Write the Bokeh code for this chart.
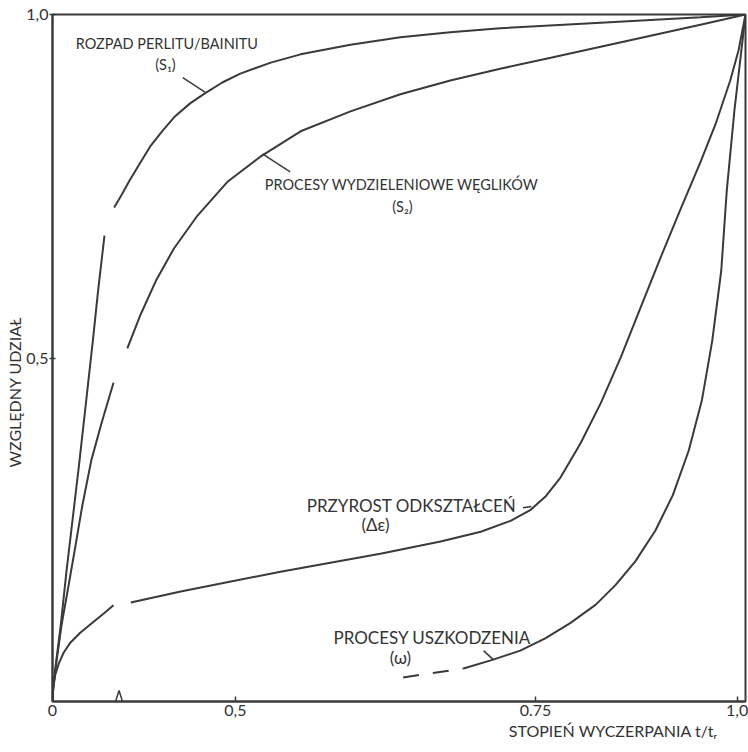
import math
from bokeh.plotting import figure
from bokeh.models import Range1d, FixedTicker, Label, Title
from bokeh.embed import file_html
from bokeh.resources import INLINE

nan = float("nan")

# ---- data (x = position along the broken/schematic axis, 0..1; y = relative share) ----
S1_X = [0, 0.001, 0.004, 0.012, 0.020, 0.029, 0.038, 0.048, 0.058, 0.066, 0.075, nan,
        0.089, 0.100, 0.111, 0.126, 0.141, 0.159, 0.177, 0.199, 0.221, 0.245, 0.271,
        0.315, 0.358, 0.430, 0.502, 0.574, 0.646, 0.791, 0.935, 1.0]
S1_Y = [0, 0.019, 0.048, 0.112, 0.188, 0.265, 0.342, 0.432, 0.523, 0.600, 0.678, nan,
        0.719, 0.738, 0.758, 0.783, 0.808, 0.831, 0.852, 0.871, 0.886, 0.901, 0.914,
        0.930, 0.942, 0.956, 0.967, 0.974, 0.980, 0.988, 0.996, 1.0]

S2_X = [0, 0.001, 0.006, 0.013, 0.022, 0.032, 0.043, 0.056, 0.071, 0.088, nan,
        0.108, 0.127, 0.150, 0.175, 0.209, 0.253, 0.300, 0.358, 0.430, 0.502, 0.574,
        0.646, 0.719, 0.791, 0.863, 0.935, 1.0]
S2_Y = [0, 0.019, 0.060, 0.111, 0.162, 0.220, 0.285, 0.351, 0.406, 0.464, nan,
        0.514, 0.563, 0.614, 0.659, 0.707, 0.757, 0.793, 0.830, 0.859, 0.884, 0.904,
        0.921, 0.937, 0.953, 0.969, 0.985, 1.0]

DE_X = [0, 0.001, 0.004, 0.009, 0.016, 0.026, 0.040, 0.058, 0.074, 0.088, nan,
        0.113, 0.185, 0.329, 0.473, 0.560, 0.618, 0.661, 0.690, 0.711, 0.733, 0.762,
        0.791, 0.820, 0.848, 0.877, 0.906, 0.935, 0.957, 0.978, 0.990, 1.0]
DE_Y = [0, 0.019, 0.039, 0.055, 0.071, 0.086, 0.100, 0.115, 0.128, 0.140, nan,
        0.144, 0.160, 0.189, 0.215, 0.233, 0.247, 0.263, 0.279, 0.298, 0.326, 0.376,
        0.434, 0.501, 0.572, 0.645, 0.716, 0.785, 0.841, 0.904, 0.948, 1.0]

W_DASH_X = [0.506, 0.593]
W_DASH_Y = [0.035, 0.048]
W_X = [0.593, 0.636, 0.675, 0.711, 0.747, 0.784, 0.812, 0.841, 0.870, 0.895, 0.918,
       0.937, 0.952, 0.965, 0.973, 0.984, 1.0]
W_Y = [0.048, 0.061, 0.074, 0.092, 0.114, 0.141, 0.169, 0.204, 0.249, 0.300, 0.365,
       0.438, 0.525, 0.627, 0.744, 0.860, 1.0]

X_TICK_POS = [0.0, 0.264, 0.697, 0.988]
X_TICK_LABELS = ["0", "0,5", "0.75", "1,0"]
Y_TICK_POS = [0.5, 1.0]
Y_TICK_LABELS = ["0,5", "1,0"]
AXIS_BREAK = 0.098

INK = "#3a3a3a"
TXT = "#333333"
FONT = "Lato"

p = figure(width=748, height=750, output_backend="svg", toolbar_location=None,
           x_range=Range1d(0, 1), y_range=Range1d(0, 1),
           min_border_left=52, min_border_right=3, min_border_top=14, min_border_bottom=49)
p.grid.visible = False
p.outline_line_color = INK
p.outline_line_width = 2
p.background_fill_color = "white"
p.border_fill_color = "white"

xa = p.xaxis[0]
xa.ticker = FixedTicker(ticks=X_TICK_POS)
xa.major_label_overrides = dict(zip(X_TICK_POS, X_TICK_LABELS))
xa.major_tick_in = 5
xa.major_tick_out = 0
xa.major_label_standoff = 3

ya = p.yaxis[0]
ya.ticker = FixedTicker(ticks=Y_TICK_POS)
ya.major_label_overrides = dict(zip(Y_TICK_POS, Y_TICK_LABELS))
ya.major_tick_in = 3
ya.major_tick_out = 3
ya.major_label_standoff = 1

for ax in (xa, ya):
    ax.axis_line_color = INK
    ax.axis_line_width = 2
    ax.major_tick_line_color = INK
    ax.major_tick_line_width = 1.5
    ax.minor_tick_line_color = None
    ax.major_label_text_font = FONT
    ax.major_label_text_font_size = "16px"
    ax.major_label_text_color = TXT

# axis titles as side titles (so they can be offset like in the reference)
p.add_layout(Title(text="STOPIEŃ WYCZERPANIA t/tᵣ", align="right", offset=28, standoff=0,
                   text_font=FONT, text_font_size="16px", text_font_style="normal",
                   text_color=TXT), "below")
p.add_layout(Title(text="WZGLĘDNY UDZIAŁ", align="left", offset=234, standoff=0,
                   text_font=FONT, text_font_size="16px", text_font_style="normal",
                   text_color=TXT), "left")

LW = 2
p.line(S1_X, S1_Y, line_color=INK, line_width=LW)
p.line(S2_X, S2_Y, line_color=INK, line_width=LW)
p.line(DE_X, DE_Y, line_color=INK, line_width=LW)
p.line(W_X, W_Y, line_color=INK, line_width=LW)
p.line(W_DASH_X, W_DASH_Y, line_color=INK, line_width=LW, line_dash="16 14")

# leader ticks from labels to curves
LEADERS = [((0.188, 0.220), (0.908, 0.887)),
           ((0.303, 0.343), (0.797, 0.771)),
           ((0.679, 0.691), (0.282, 0.284)),
           ((0.622, 0.636), (0.074, 0.061))]
for lx, ly in LEADERS:
    p.line(list(lx), list(ly), line_color=INK, line_width=1.5)

# axis break mark (only the part inside the frame can be drawn)
b = AXIS_BREAK
p.line([b - 0.007, b - 0.002, b + 0.003], [0.0, 0.016, 0.0], line_color=INK, line_width=1.5)

def lab(x, y, t, size="14px"):
    p.add_layout(Label(x=x, y=y, text=t, text_font=FONT, text_font_size=size,
                       text_color=TXT, text_align="center", text_baseline="middle"))

lab(0.165, 0.958, "ROZPAD PERLITU/BAINITU", "14.5px")
lab(0.163, 0.927, "(S₁)", "14.5px")
lab(0.504, 0.753, "PROCESY WYDZIELENIOWE WĘGLIKÓW", "14.5px")
lab(0.505, 0.720, "(S₂)", "14.5px")
lab(0.518, 0.285, "PRZYROST ODKSZTAŁCEŃ", "17px")
lab(0.466, 0.258, "(Δε)", "17px")
lab(0.548, 0.093, "PROCESY USZKODZENIA", "17px")
lab(0.502, 0.064, "(ω)", "17px")

open("out.html", "w").write(file_html(p, INLINE))
